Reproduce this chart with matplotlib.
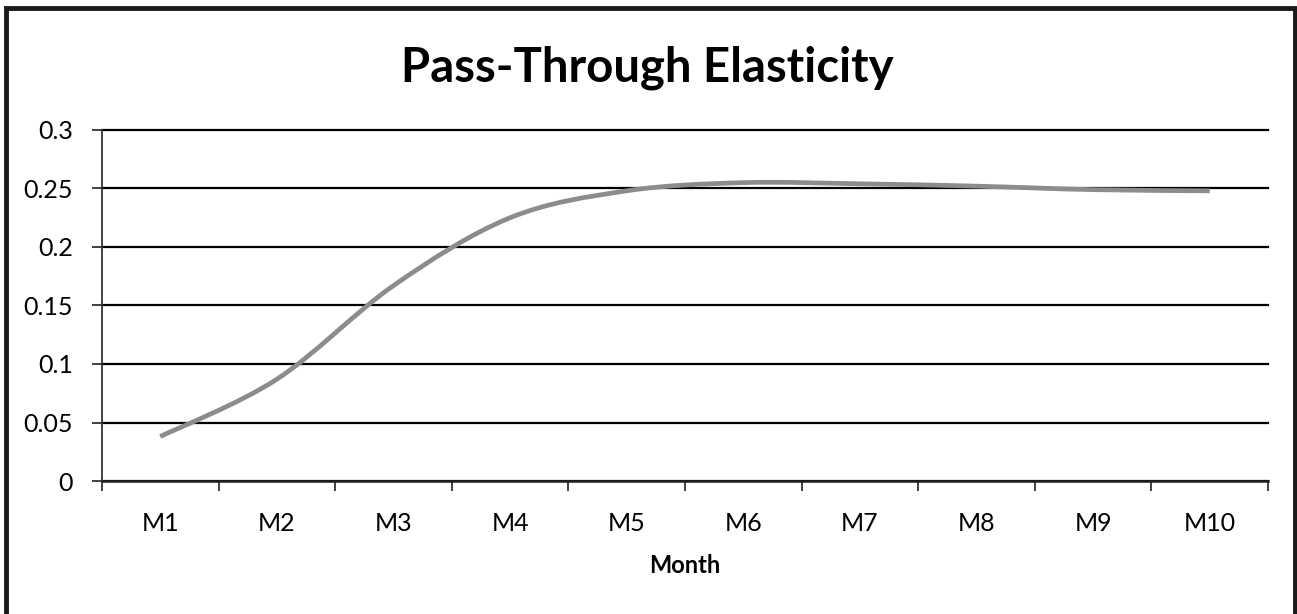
import numpy as np
import matplotlib.pyplot as plt
from matplotlib.path import Path
from matplotlib.patches import PathPatch, Rectangle

months = ['M1', 'M2', 'M3', 'M4', 'M5', 'M6', 'M7', 'M8', 'M9', 'M10']
elasticity = [0.038, 0.087, 0.167, 0.225, 0.248, 0.255, 0.254, 0.252, 0.249, 0.248]

plt.rcParams['font.family'] = ['Lato', 'DejaVu Sans']


def smooth_path(xs, ys):
    # Catmull-Rom style cubic Bezier through every point (like a spreadsheet "smoothed line")
    pts = np.column_stack([xs, ys]).astype(float)
    ext = np.vstack([pts[0], pts, pts[-1]])
    verts = [pts[0]]
    codes = [Path.MOVETO]
    for i in range(len(pts) - 1):
        p0, p1, p2, p3 = ext[i], ext[i + 1], ext[i + 2], ext[i + 3]
        c1 = p1 + (p2 - p0) / 6.0
        c2 = p2 - (p3 - p1) / 6.0
        verts += [c1, c2, p2]
        codes += [Path.CURVE4] * 3
    return Path(verts, codes)


fig = plt.figure(figsize=(12.97, 6.14), dpi=100)
ax = fig.add_axes([0.0786, 0.2166, 0.8991, 0.5717])

x = np.arange(1, len(months) + 1)
ax.add_patch(PathPatch(smooth_path(x, elasticity), fill=False, edgecolor='#8c8c8c',
                       lw=3.4, capstyle='butt', zorder=3))
ax.plot(x, elasticity, alpha=0)

ax.set_xlim(0.5, len(months) + 0.5)
ax.set_ylim(0, 0.3)
ax.set_yticks(np.arange(0, 0.31, 0.05))
ax.set_yticklabels(['0', '0.05', '0.1', '0.15', '0.2', '0.25', '0.3'])
ax.yaxis.grid(True, color='black', lw=1.6)
for gl in ax.get_ygridlines():
    gl.set_clip_on(False)
ax.set_axisbelow(True)

# category boundaries get tick marks, category centres get the labels
ax.set_xticks(np.arange(0.5, len(months) + 1, 1.0))
ax.set_xticklabels([])
ax.set_xticks(x, minor=True)
ax.set_xticklabels(months, minor=True)
ax.tick_params(axis='x', which='major', length=7, width=1.3, color='#333333')
ax.tick_params(axis='x', which='minor', length=0, pad=22, labelsize=18)
ax.tick_params(axis='y', length=7, width=1.3, color='#333333', labelsize=18, pad=14)

for s in ['top', 'right']:
    ax.spines[s].set_visible(False)
ax.spines['left'].set_color('#333333')
ax.spines['left'].set_linewidth(1.3)
ax.spines['bottom'].set_color('#222222')
ax.spines['bottom'].set_linewidth(1.8)

ax.set_xlabel('Month', fontsize=17, fontweight='bold', labelpad=14)
fig.text(0.499, 0.89, 'Pass-Through Elasticity', ha='center', va='center',
         fontsize=34, fontweight='bold')

# chart area frame
fig.patches.append(Rectangle((6 / 1297, -0.05), 1289 / 1297, 1 - 7.5 / 614 + 0.05,
                             transform=fig.transFigure, fill=False,
                             edgecolor='#1a1a1a', lw=3.5))

fig.savefig('out.png', dpi=100, facecolor='white')
